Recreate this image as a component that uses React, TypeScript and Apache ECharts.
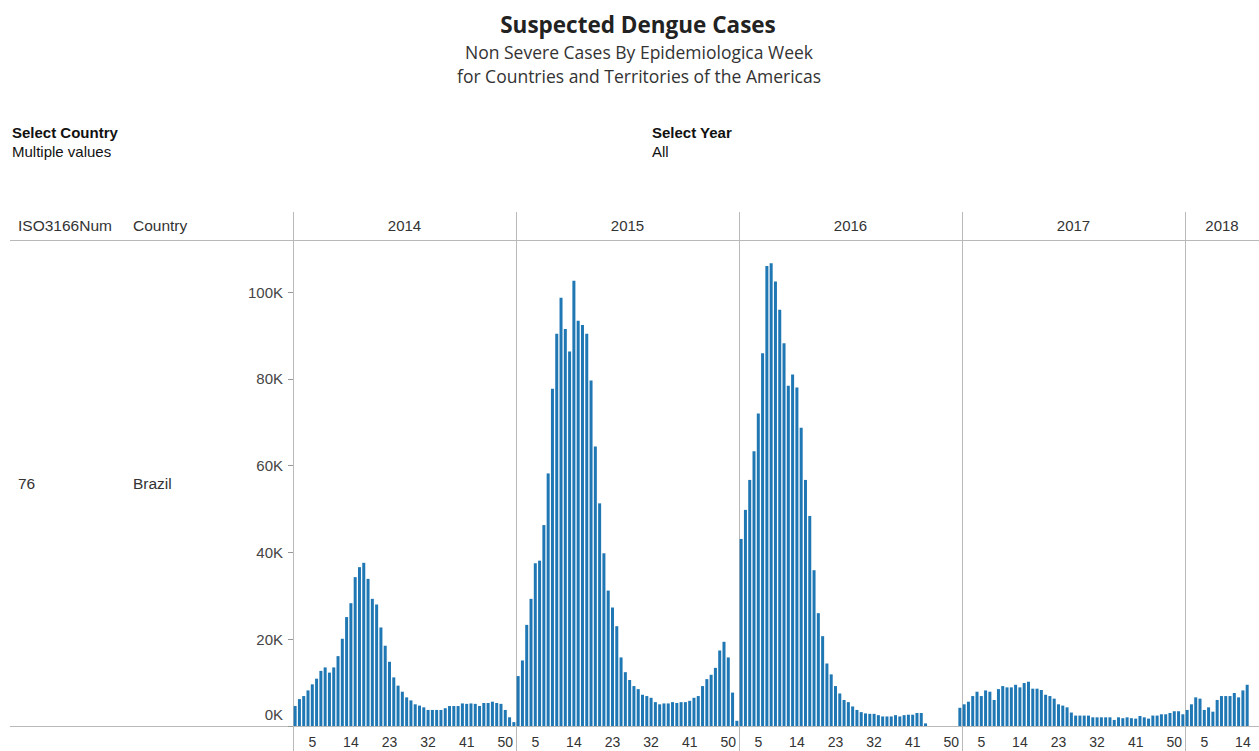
import React, { useEffect, useRef } from "react";
import * as echarts from "echarts";

// Years (panels) and weekly suspected non-severe dengue cases, in thousands
const years = ["2014", "2015", "2016", "2017", "2018"];

const cases2014 = [
  4.6, 6.2, 6.9, 8.2, 9.6, 10.9, 12.7, 13.5, 12.3, 13.5, 16.1, 20.1, 25.1, 28.3, 34.3, 36.6, 37.6,
  33.9, 29.3, 28.0, 22.7, 18.5, 14.8, 11.2, 9.3, 7.9, 6.6, 5.9, 5.0, 4.7, 4.3, 3.7, 3.7, 3.7, 3.7,
  4.1, 4.6, 4.6, 4.6, 5.2, 5.1, 5.2, 5.1, 4.6, 5.3, 5.3, 5.6, 5.3, 5.1, 3.7, 2.0, 0.9,
];
const cases2015 = [
  11.5, 15.1, 23.3, 29.3, 37.5, 38.1, 46.3, 58.2, 77.7, 90.4, 98.7, 91.5, 86.3, 102.6, 93.4, 92.4,
  90.4, 79.6, 64.4, 51.3, 39.8, 31.2, 27.3, 23.0, 15.8, 12.4, 10.6, 9.2, 8.5, 7.2, 6.9, 6.5, 5.5, 5.0,
  5.2, 5.2, 5.5, 5.3, 5.5, 5.5, 5.8, 6.5, 6.9, 9.2, 10.8, 11.8, 13.4, 17.4, 19.4, 15.8, 7.7, 1.2,
];
const cases2016 = [
  43.1, 49.8, 56.7, 63.3, 72.0, 85.9, 106.0, 106.6, 102.4, 95.9, 88.2, 78.4, 81.0, 78.0, 68.7, 56.7,
  48.4, 35.9, 26.0, 20.7, 14.4, 11.9, 9.2, 7.5, 6.0, 5.5, 4.5, 3.7, 3.2, 2.9, 2.8, 2.8, 2.5, 2.2,
  2.2, 2.2, 2.5, 2.2, 2.5, 2.6, 2.6, 3.0, 3.0, 0.6, null, null, null, null, null, null, null, 4.2,
];
const cases2017 = [
  5.0, 5.6, 6.9, 7.9, 6.9, 8.2, 7.9, 6.0, 8.5, 9.2, 8.9, 8.9, 9.5, 8.9, 9.9, 10.2, 8.6, 8.6, 8.3,
  7.2, 6.9, 6.3, 5.0, 4.7, 4.3, 3.1, 2.4, 2.4, 2.4, 2.4, 2.0, 2.0, 2.0, 2.0, 2.0, 1.4, 2.0, 1.8, 2.0,
  1.8, 1.7, 2.3, 2.0, 1.7, 2.4, 2.4, 2.7, 2.7, 3.0, 3.4, 3.4, 2.7,
];
const cases2018 = [3.7, 5.0, 6.6, 6.3, 3.7, 4.3, 3.3, 6.0, 6.9, 6.9, 6.9, 7.6, 6.6, 8.2, 9.5];

const seriesByYear = [cases2014, cases2015, cases2016, cases2017, cases2018];
const yTicks = [0, 20, 40, 60, 80, 100];

const weekList = (n: number) => Array.from({ length: n }, (_, i) => String(i + 1));

const PANEL_LEFT = [293, 516, 739, 962, 1185];
const PANEL_W = 223;
const GRID_TOP = 292;
const GRID_H = 434;
const BASE_Y = GRID_TOP + GRID_H;
const LINE = "#b9b9b9";
const TXT = "#333333";
const BAR = "#1f77b4";

export default function App() {
  const ref = useRef<HTMLDivElement>(null);

  useEffect(() => {
    if (!ref.current) return;
    const chart = echarts.init(ref.current, undefined, { renderer: "svg" });

    const grids = seriesByYear.map((d, i) => ({
      left: PANEL_LEFT[i],
      top: GRID_TOP,
      width: i < 4 ? PANEL_W : d.length * (PANEL_W / 52),
      height: GRID_H,
    }));

    const xAxes = seriesByYear.map((d, i) => ({
      type: "category",
      gridIndex: i,
      data: weekList(d.length),
      axisLine: { show: false },
      axisTick: { show: false },
      axisLabel: {
        interval: (idx: number) => idx + 1 >= 5 && (idx + 1 - 5) % 9 === 0,
        fontSize: 14,
        fontFamily: "Arial, 'Liberation Sans'",
        color: TXT,
        margin: 9,
      },
    }));

    const yAxes = seriesByYear.map((_, i) => ({
      type: "value",
      gridIndex: i,
      min: yTicks[0],
      max: yTicks[yTicks.length - 1],
      interval: 20,
      splitLine: { show: false },
      axisLine: { show: false },
      axisTick: { show: i === 0, length: 5, lineStyle: { color: "#999" } },
      axisLabel: {
        show: i === 0,
        margin: 10,
        fontSize: 15,
        fontFamily: "Arial, 'Liberation Sans'",
        color: "#444",
        formatter: (v: number) => (v === 0 ? "{z|0K}" : v + "K"),
        rich: {
          z: {
            fontSize: 15,
            fontFamily: "Arial, 'Liberation Sans'",
            color: "#444",
            padding: [0, 0, 24, 0],
          },
        },
      },
    }));

    const series = seriesByYear.map((d, i) => ({
      type: "bar",
      name: years[i],
      xAxisIndex: i,
      yAxisIndex: i,
      data: d,
      barWidth: "70%",
      clip: false,
      itemStyle: { color: BAR },
    }));

    const txt = (
      text: string,
      x: number,
      y: number,
      size: number,
      opts: any = {}
    ) => ({
      type: "text",
      x,
      y,
      style: {
        text,
        fill: opts.fill || TXT,
        font: `${opts.weight || "normal"} ${size}px ${opts.family || "Arial, 'Liberation Sans'"}`,
        align: opts.align || "left",
        verticalAlign: "middle",
      },
    });

    const graphics: any[] = [
      txt("Suspected Dengue Cases", 638, 24, 22.5, { weight: "bold", family: "'Open Sans'", align: "center", fill: "#222" }),
      txt("Non Severe Cases By Epidemiologica Week", 639, 52, 17.5, { family: "'Open Sans'", align: "center" }),
      txt("for Countries and Territories of the Americas", 639, 76, 17.5, { family: "'Open Sans'", align: "center" }),
      txt("Select Country", 12, 132, 15, { weight: "bold", fill: "#111" }),
      txt("Multiple values", 12, 151, 15, { fill: "#111" }),
      txt("Select Year", 652, 132, 15, { weight: "bold", fill: "#111" }),
      txt("All", 652, 151, 15, { fill: "#111" }),
      txt("ISO3166Num", 18, 225, 15.5),
      txt("Country", 133, 225, 15.5),
      txt("76", 18, 483, 15.5),
      txt("Brazil", 133, 483, 15.5),
      {
        type: "line",
        shape: { x1: 10, y1: 240.5, x2: 1259, y2: 240.5 },
        style: { stroke: LINE, lineWidth: 1 },
      },
      {
        type: "line",
        shape: { x1: 10, y1: BASE_Y + 0.5, x2: 1259, y2: BASE_Y + 0.5 },
        style: { stroke: LINE, lineWidth: 1 },
      },
    ];

    PANEL_LEFT.forEach((x, i) => {
      graphics.push({
        type: "line",
        shape: { x1: x + 0.5, y1: 212, x2: x + 0.5, y2: 751 },
        style: { stroke: LINE, lineWidth: 1 },
      });
      const right = i < 4 ? PANEL_LEFT[i + 1] : 1259;
      graphics.push(txt(years[i], (x + right) / 2, 225, 15, { align: "center" }));
    });

    chart.setOption({
      animation: false,
      backgroundColor: "#ffffff",
      grid: grids,
      xAxis: xAxes,
      yAxis: yAxes,
      series,
      graphic: graphics,
    });

    return () => chart.dispose();
  }, []);

  return (
    <div
      ref={ref}
      style={{ position: "fixed", left: 0, top: 0, width: 1259, height: 751 }}
    />
  );
}
